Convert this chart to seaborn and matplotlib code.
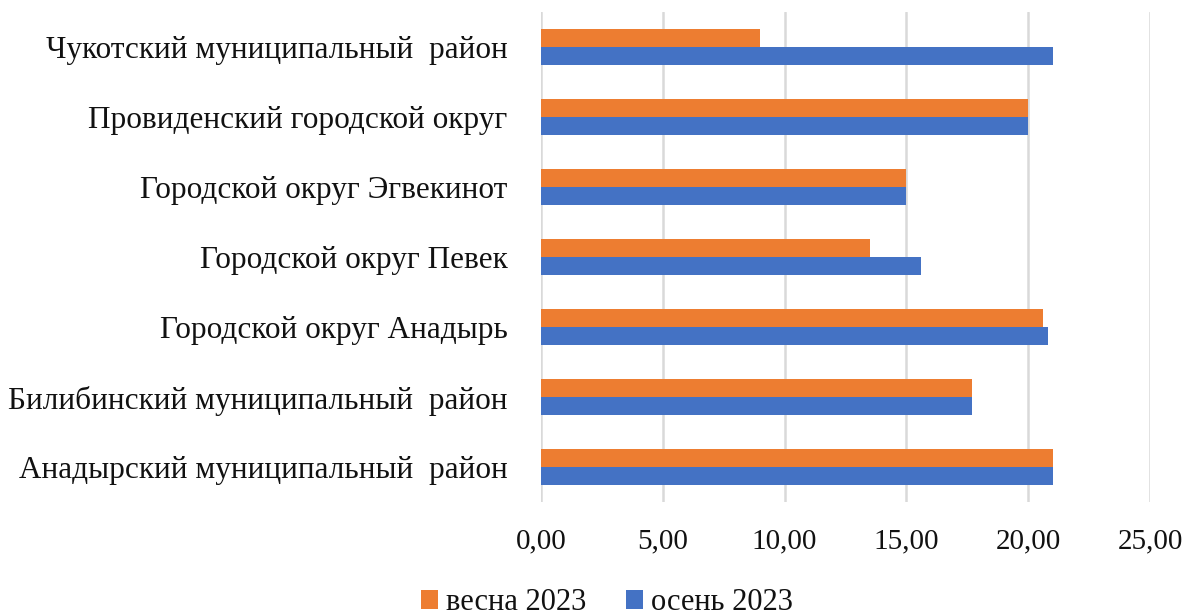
import matplotlib
matplotlib.use("Agg")
import matplotlib.pyplot as plt
import seaborn as sns
import pandas as pd
from matplotlib.ticker import FuncFormatter
from matplotlib.patches import Patch

categories = [
    "Чукотский муниципальный  район",
    "Провиденский городской округ",
    "Городской округ Эгвекинот",
    "Городской округ Певек",
    "Городской округ Анадырь",
    "Билибинский муниципальный  район",
    "Анадырский муниципальный  район",
]
spring_2023 = [9.0, 20.0, 15.0, 13.5, 20.6, 17.7, 21.0]
autumn_2023 = [21.0, 20.0, 15.0, 15.6, 20.8, 17.7, 21.0]
series_names = ["весна 2023", "осень 2023"]
x_ticks = [0, 5, 10, 15, 20, 25]

df = pd.DataFrame({
    "cat": categories * 2,
    "val": spring_2023 + autumn_2023,
    "series": [series_names[0]] * len(categories) + [series_names[1]] * len(categories),
})

sns.set_theme(style="white")
plt.rcParams["font.family"] = ["Liberation Serif", "DejaVu Serif"]

colors = {series_names[0]: "#ED7D31", series_names[1]: "#4472C4"}

fig = plt.figure(figsize=(11.9, 6.16), dpi=100)
ax = fig.add_axes([0.4546, 0.185, 0.5118, 0.7955])
sns.barplot(data=df, y="cat", x="val", hue="series", order=categories,
            hue_order=series_names, palette=colors, orient="h", width=0.52,
            saturation=1, ax=ax, legend=False, linewidth=0)

ax.set_xlim(0, 25)
ax.set_xticks(x_ticks)
ax.xaxis.set_major_formatter(FuncFormatter(lambda v, p: f"{v:.2f}".replace(".", ",")))
ax.grid(axis="x", color="#D9D9D9", linewidth=1.8)
ax.set_axisbelow(True)
for s in ax.spines.values():
    s.set_visible(False)
ax.set_xlabel("")
ax.set_ylabel("")
ax.tick_params(axis="y", labelsize=22.5, length=0, pad=24, colors="#111111")
ax.tick_params(axis="x", labelsize=21, length=0, pad=19, colors="#111111")

handles = [Patch(facecolor=colors[n], edgecolor="none") for n in series_names]
fig.legend(handles, series_names, loc="lower center", bbox_to_anchor=(0.51, -0.047),
           ncol=2, frameon=False, fontsize=22, handlelength=0.55, handleheight=0.55,
           handletextpad=0.26, columnspacing=1.3, labelcolor="#111111")

fig.savefig("out.png", dpi=100)
